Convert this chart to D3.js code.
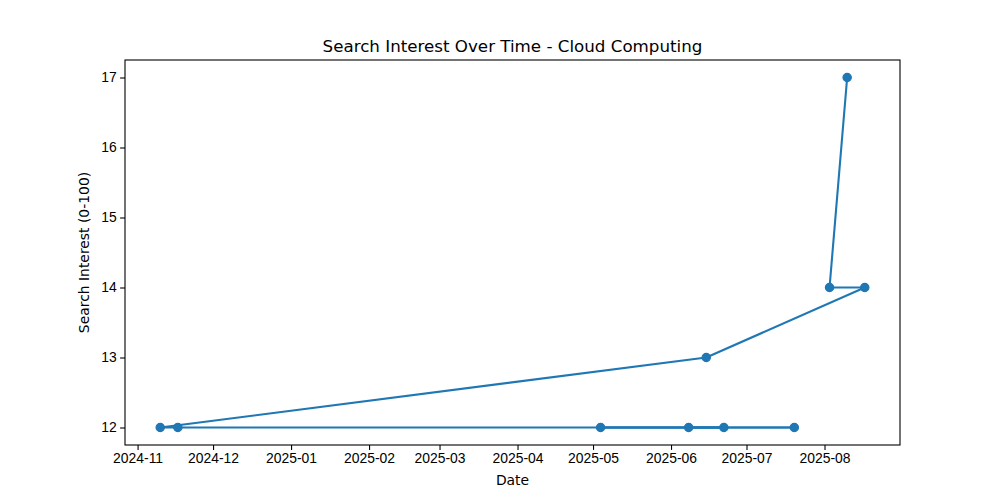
<!DOCTYPE html>
<html>
<head>
<meta charset="utf-8">
<script src="https://cdn.jsdelivr.net/npm/d3@7"></script>
<style>
  body { margin: 0; background: #fff; }
  svg { font-family: "DejaVu Sans", sans-serif; }
</style>
</head>
<body>
<script>
var width = 1000;
var height = 500;
var margin = {left: 125, right: 100, top: 60, bottom: 55};

// weekly points, in the order they were plotted
var dates = ["2025-08-10", "2025-08-03", "2025-08-17", "2025-06-15", "2024-11-10",
             "2024-11-17", "2025-07-20", "2025-05-04", "2025-06-22", "2025-06-08"];
var interest = [17, 14, 14, 13, 12, 12, 12, 12, 12, 12];
var yTicks = [12, 13, 14, 15, 16, 17];

var parse = d3.utcParse("%Y-%m-%d");
var points = dates.map(function(d, i){ return {date: parse(d), value: interest[i]}; });

var svg = d3.select('body').append('svg')
  .attr('width', width)
  .attr('height', height);

var xExt = d3.extent(points, function(d){ return d.date; });
var xPad = (xExt[1] - xExt[0]) * 0.05;
var x = d3.scaleUtc()
  .domain([new Date(+xExt[0] - xPad), new Date(+xExt[1] + xPad)])
  .range([margin.left, width - margin.right]);

var yExt = d3.extent(interest);
var yPad = (yExt[1] - yExt[0]) * 0.05;
var y = d3.scaleLinear()
  .domain([yExt[0] - yPad, yExt[1] + yPad])
  .range([height - margin.bottom, margin.top]);

var xAxis = svg.append('g')
  .attr('transform', 'translate(0,' + (height - margin.bottom) + ')')
  .call(d3.axisBottom(x).ticks(d3.utcMonth.every(1)).tickFormat(d3.utcFormat('%Y-%m'))
    .tickSizeOuter(0).tickSize(4.9).tickPadding(3.5));

var yAxis = svg.append('g')
  .attr('transform', 'translate(' + margin.left + ',0)')
  .call(d3.axisLeft(y).tickValues(yTicks).tickFormat(d3.format('d'))
    .tickSizeOuter(0).tickSize(4.9).tickPadding(3.5));

[xAxis, yAxis].forEach(function(g){
  g.select('.domain').remove();
  g.selectAll('.tick line').attr('stroke', '#000').attr('stroke-width', 1.1);
  g.selectAll('.tick text').attr('fill', '#000').style('font-size', '13.9px');
});

// frame
svg.append('rect')
  .attr('x', margin.left)
  .attr('y', margin.top)
  .attr('width', width - margin.left - margin.right)
  .attr('height', height - margin.top - margin.bottom)
  .attr('fill', 'none')
  .attr('stroke', '#000')
  .attr('stroke-width', 1.1);

// segments drawn one by one so the back-and-forth overlaps show
var segs = d3.pairs(points);
svg.selectAll('line.seg').data(segs)
  .enter().append('line')
    .attr('class', 'seg')
    .attr('x1', function(d){ return x(d[0].date); })
    .attr('y1', function(d){ return y(d[0].value); })
    .attr('x2', function(d){ return x(d[1].date); })
    .attr('y2', function(d){ return y(d[1].value); })
    .attr('stroke', '#1f77b4')
    .attr('stroke-width', 2.1)
    .attr('stroke-linecap', 'round');

svg.selectAll('circle.pt').data(points)
  .enter().append('circle')
    .attr('class', 'pt')
    .attr('cx', function(d){ return x(d.date); })
    .attr('cy', function(d){ return y(d.value); })
    .attr('r', 4.17)
    .attr('fill', '#1f77b4')
    .attr('stroke', '#1f77b4')
    .attr('stroke-width', 1.2);

svg.append('text')
  .attr('x', (margin.left + width - margin.right) / 2)
  .attr('y', 52)
  .attr('text-anchor', 'middle')
  .style('font-size', '16.7px')
  .text('Search Interest Over Time - Cloud Computing');

svg.append('text')
  .attr('x', (margin.left + width - margin.right) / 2)
  .attr('y', 485)
  .attr('text-anchor', 'middle')
  .style('font-size', '13.9px')
  .text('Date');

svg.append('text')
  .attr('transform', 'translate(89,' + ((margin.top + height - margin.bottom) / 2) + ') rotate(-90)')
  .attr('text-anchor', 'middle')
  .style('font-size', '13.9px')
  .text('Search Interest (0-100)');
</script>
</body>
</html>
